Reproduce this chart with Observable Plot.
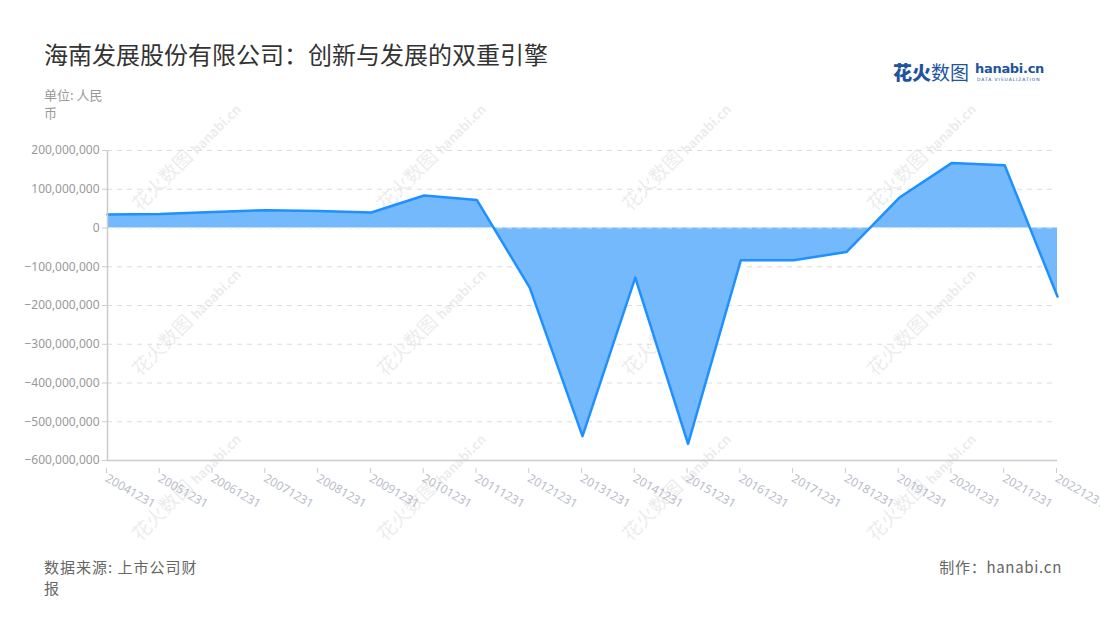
<!DOCTYPE html>
<html>
<head>
<meta charset="utf-8">
<script src="https://cdn.jsdelivr.net/npm/d3@7"></script>
<script src="https://cdn.jsdelivr.net/npm/@observablehq/plot@0.6"></script>
<style>
  html, body { margin: 0; padding: 0; background: #fff; }
  body { width: 1100px; height: 620px; position: relative; overflow: hidden;
         font-family: "Noto Sans CJK SC", "Noto Sans", sans-serif; }
  .abs { position: absolute; white-space: nowrap; }
  #title { left: 44px; top: 36px; font-size: 24px; color: #333; line-height: 36px; }
  #unit { left: 44px; top: 86px; font-size: 13px; color: #999; line-height: 18px; }
  #source { left: 44px; top: 556px; font-size: 15px; color: #666; line-height: 21px; letter-spacing: 1px; }
  #maker { right: 38px; top: 556px; font-size: 15px; color: #666; line-height: 21px; letter-spacing: 0.7px; }
  #logo { left: 893px; top: 58px; color: #22549c; }
  #chart { left: 0; top: 130px; }
  .wm { position: absolute; transform: translate(-50%, -50%) rotate(-45deg); color: rgba(200,200,200,0.35);
        font-size: 19px; white-space: nowrap; pointer-events: none; }
  .wm small { font-size: 13px; font-weight: bold; }
  [aria-label="y-axis tick label"] { fill: #999; }
  [aria-label="x-axis tick label"] { fill: #b9bdca; }
  [aria-label="y-axis tick"], [aria-label="x-axis tick"] { stroke: #ccc; }
</style>
</head>
<body>
<div id="title" class="abs">海南发展股份有限公司：创新与发展的双重引擎</div>
<div id="unit" class="abs">单位: 人民<br>币</div>
<div id="wms"></div>
<div id="logo" class="abs">
  <span style="font-size:19px;font-weight:900;">花火</span><span style="font-size:19px;">数图</span>
  <span style="position:absolute;left:82px;top:3px;font-size:13px;font-weight:bold;font-family:'DejaVu Sans',sans-serif;letter-spacing:-0.3px;">hanabi.cn</span>
  <span style="position:absolute;left:84px;top:19px;font-size:4.5px;letter-spacing:0.9px;font-family:'DejaVu Sans',sans-serif;">DATA VISUALIZATION</span>
</div>
<div id="chart" class="abs"></div>
<div id="source" class="abs">数据来源: 上市公司财<br>报</div>
<div id="maker" class="abs">制作：hanabi.cn</div>
<script>
const dates = ["20041231","20051231","20061231","20071231","20081231","20091231","20101231","20111231","20121231","20131231","20141231","20151231","20161231","20171231","20181231","20191231","20201231","20211231","20221231"];
const values = [35e6, 36e6, 41e6, 46e6, 44e6, 40e6, 84e6, 72e6, -154e6, -537e6, -128e6, -557e6, -83e6, -83e6, -62e6, 78e6, 168e6, 162e6, -177e6];
const yTicks = [200e6, 100e6, 0, -100e6, -200e6, -300e6, -400e6, -500e6, -600e6];

const data = dates.map((d, i) => ({date: d, value: values[i]}));
const fmt = d3.format(",");

const chart = Plot.plot({
  width: 1100,
  height: 390,
  marginLeft: 107,
  marginRight: 43,
  marginTop: 20,
  marginBottom: 60,
  style: {fontFamily: "'Noto Sans', 'Noto Sans CJK SC', sans-serif", fontSize: "12px", background: "transparent", overflow: "visible"},
  x: {type: "point", domain: dates, padding: 0, round: false, label: null},
  y: {domain: [-600e6, 200e6], label: null},
  marks: [
    Plot.gridY(yTicks, {stroke: "#dcdcdc", strokeOpacity: 1, strokeDasharray: "5,5"}),
    Plot.areaY(data, {x: "date", y: "value", fill: "#75b9fd"}),
    Plot.ruleY([0], {stroke: "#ffffff", strokeOpacity: 0.6, strokeDasharray: "5,5"}),
    Plot.lineY(data, {x: "date", y: "value", stroke: "#1e90ff", strokeWidth: 2.5}),
    Plot.ruleX([dates[0]], {stroke: "#ccc", strokeWidth: 1.5}),
    Plot.ruleY([-600e6], {stroke: "#ccc", strokeWidth: 1.5}),
    Plot.axisY(yTicks, {tickFormat: fmt, tickSize: 5, tickPadding: 3, fontSize: 12}),
    Plot.axisX({tickRotate: 30, textAnchor: "start", tickSize: 5, tickPadding: 4, fontSize: 12, dx: -1, dy: 8})
  ]
});
document.getElementById("chart").appendChild(chart);

const wmx = [185, 430, 675, 920];
const wmy = [155, 320, 485];
const wms = document.getElementById("wms");
for (const y of wmy) for (const x of wmx) {
  const el = document.createElement("div");
  el.className = "wm";
  el.style.left = x + "px";
  el.style.top = y + "px";
  el.innerHTML = "花火数图 <small>hanabi.cn</small>";
  wms.appendChild(el);
}
</script>
</body>
</html>
